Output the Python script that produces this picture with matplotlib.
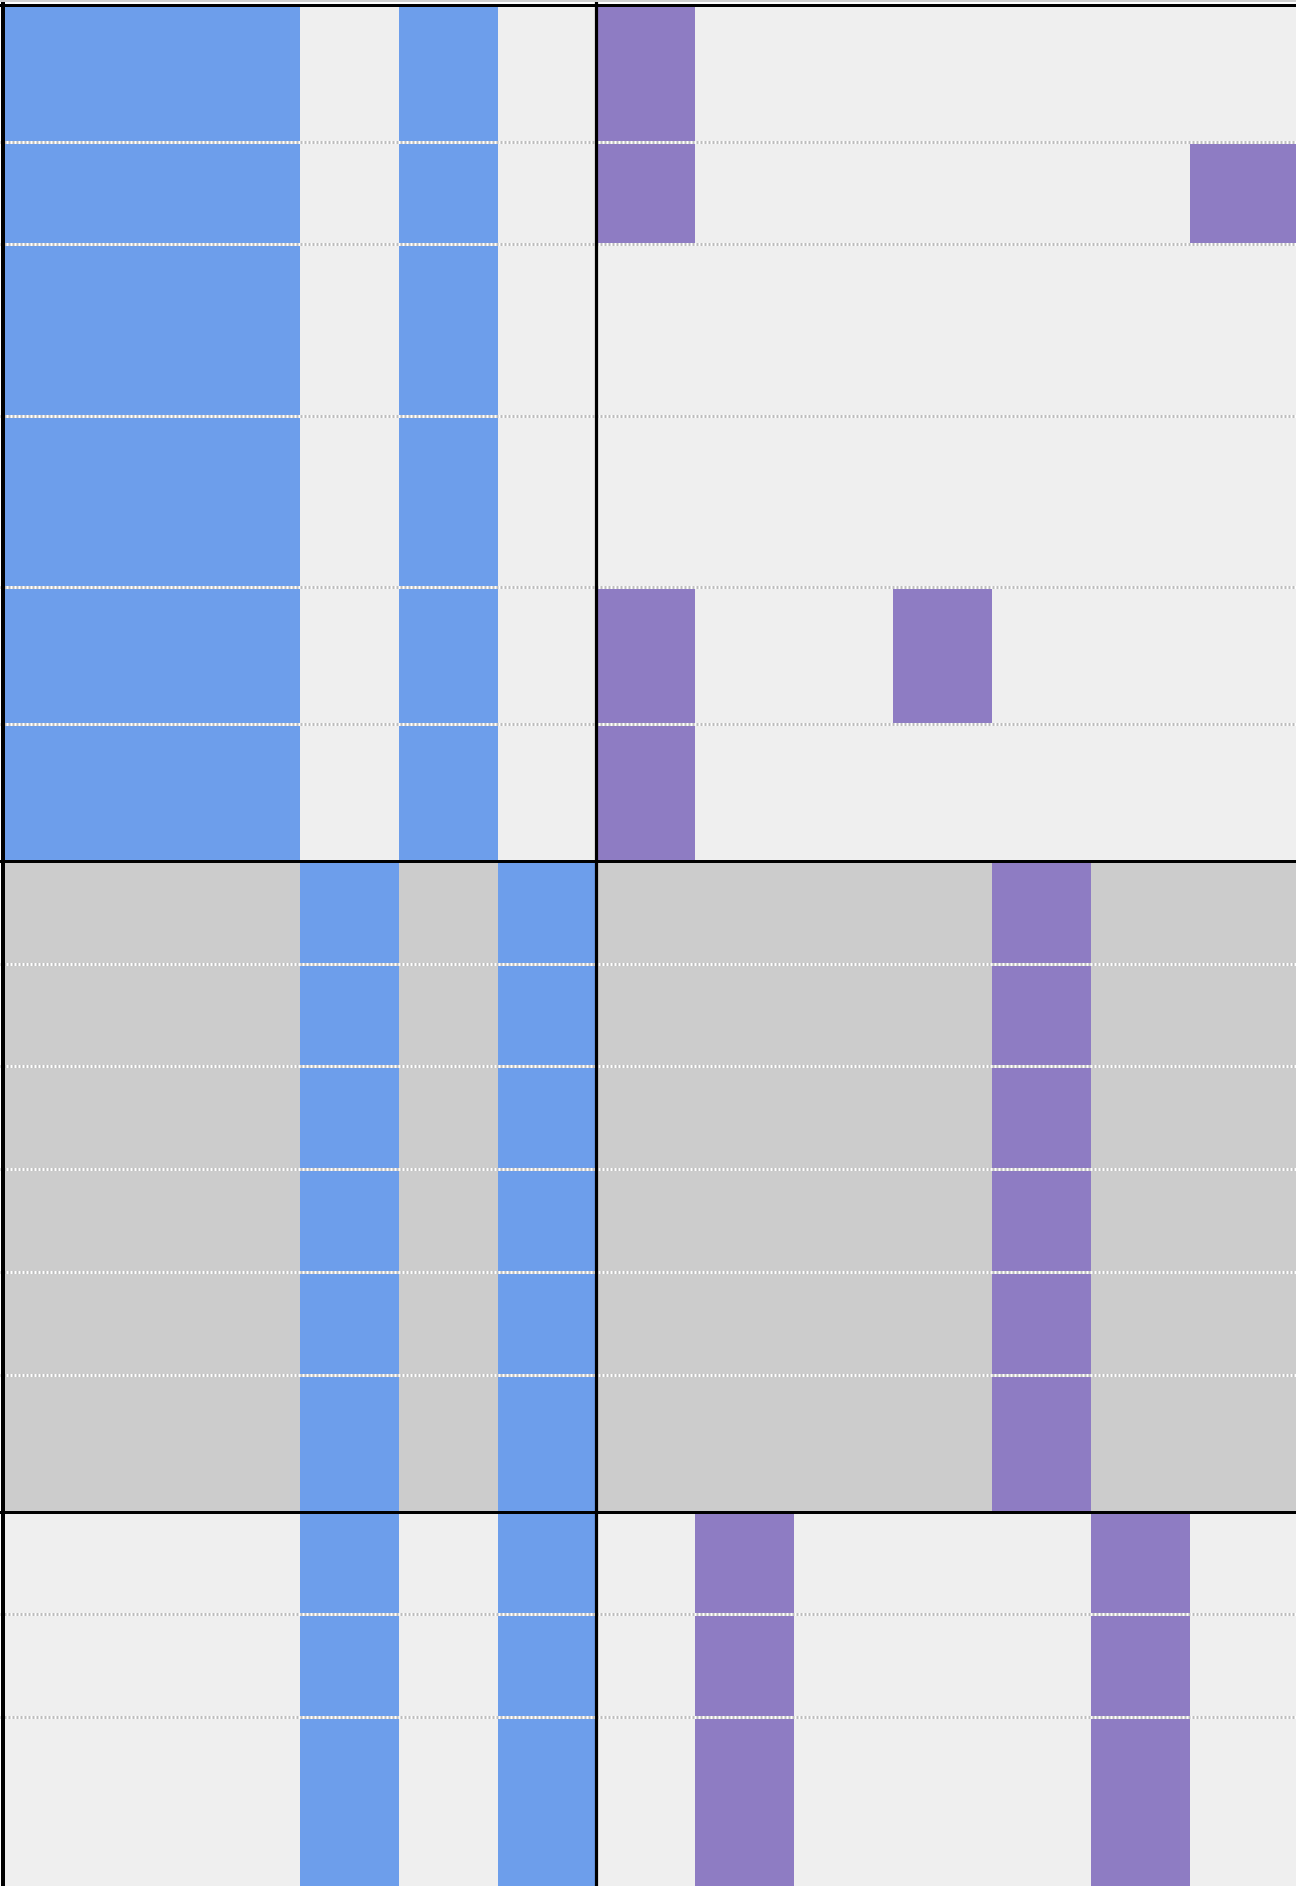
import numpy as np
import matplotlib
matplotlib.use("Agg")
import matplotlib.pyplot as plt
from matplotlib.colors import ListedColormap

# ---- data ----
row_heights = [4, 3, 5, 5, 4, 4, 3, 3, 3, 3, 3, 4, 3, 3, 5]
section_breaks = [25, 44]          # row-unit positions of thick separators
column_break = 6                   # column index of thick vertical separator
categories = ["L", "G", "B", "P"]  # light, gray, blue, purple
grid_rows = [
    "BBBLBLPLLLLLL",
    "BBBLBLPLLLLLP",
    "BBBLBLLLLLLLL",
    "BBBLBLLLLLLLL",
    "BBBLBLPLLPLLL",
    "BBBLBLPLLLLLL",
    "GGGBGBGGGGPGG",
    "GGGBGBGGGGPGG",
    "GGGBGBGGGGPGG",
    "GGGBGBGGGGPGG",
    "GGGBGBGGGGPGG",
    "GGGBGBGGGGPGG",
    "LLLBLBLPLLLPL",
    "LLLBLBLPLLLPL",
    "LLLBLBLPLLLPL",
]
colors = ["#efefef", "#cccccc", "#6d9eeb", "#8e7cc3"]

# ---- figure ----
W, H, DPI = 1296, 1886, 100
fig = plt.figure(figsize=(W / DPI, H / DPI), dpi=DPI, facecolor="white")
ax = fig.add_axes([0, 0, 1, 1])
ax.set_axis_off()

col_w_px = 98.9
row_u_px = 34.25
x0_px, y0_px = 3.0, 4.5

ncols = len(grid_rows[0])
x_edges = np.arange(ncols + 1, dtype=float)
x_edges[-1] = ncols + 0.2
y_edges = np.concatenate([[0], np.cumsum(row_heights)]).astype(float)

codes = np.array([[categories.index(c) for c in r] for r in grid_rows])
cmap = ListedColormap(colors)
ax.pcolormesh(x_edges, y_edges, codes, cmap=cmap, vmin=-0.5, vmax=len(colors) - 0.5,
              shading="flat", antialiased=False, edgecolors="none", zorder=1)

ax.set_xlim(-x0_px / col_w_px, (W - x0_px) / col_w_px)
ax.set_ylim((H - y0_px) / row_u_px, -y0_px / row_u_px)

plt.rcParams["lines.scale_dashes"] = False
px = 72.0 / DPI
# dotted row separators
for yb in y_edges[1:-1]:
    if int(yb) in section_breaks:
        continue
    ax.axhline(yb, color="white", lw=3 * px, zorder=2, solid_capstyle="butt")
    ax.axhline(yb, color="#bdbdbd", lw=3 * px, zorder=3, linestyle=(0, (2 * px, 2 * px)),
               dash_capstyle="butt")

# thick separators
for yb in section_breaks:
    ax.axhline(yb, color="black", lw=3 * px, zorder=5)
ax.axvline(column_break, color="black", lw=3.2 * px, zorder=5)
ax.axhline(0, color="black", lw=3 * px, zorder=5)
ax.axvline(0, color="black", lw=4 * px, zorder=5)
# thin light line at the very top
ax.axhline(-y0_px / row_u_px + 1.0 / row_u_px, color="#d0d0d0", lw=2 * px, zorder=6)

fig.savefig("out.png", dpi=DPI, facecolor="white")
